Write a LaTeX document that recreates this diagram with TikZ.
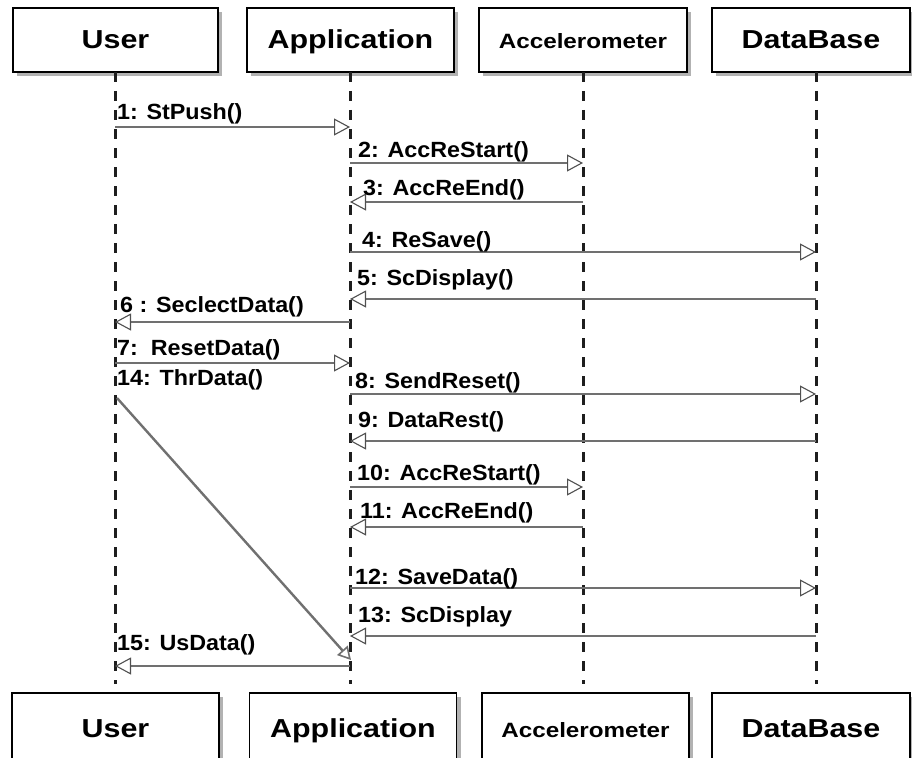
\documentclass[tikz,border=0pt]{standalone}
\usepackage{fontspec}
\setmainfont{Liberation Sans}
\newfontfamily\titlefont[FakeStretch=1.17]{Liberation Sans}
\newfontfamily\labelfont[FakeStretch=1.06]{Liberation Sans}
\usetikzlibrary{arrows.meta,shadows}

\definecolor{msggray}{HTML}{707070}
\definecolor{tipgray}{HTML}{505050}
\definecolor{lifegray}{HTML}{1E1E1E}

\begin{document}
\begin{tikzpicture}[x=1pt,y=-1pt,
  actor/.style={draw=black, line width=1.8pt, fill=white, inner sep=0pt,
    font=\titlefont\bfseries\fontsize{26}{30}\selectfont, text height=18pt, text depth=0pt,
    drop shadow={shadow xshift=4pt, shadow yshift=-4pt, fill=black!30, opacity=1}},
  smallactor/.style={actor, font=\titlefont\bfseries\fontsize{20.7}{24}\selectfont},
  lifeline/.style={draw=lifegray, line width=3pt, dash pattern=on 10pt off 9pt},
  msg/.style={draw=msggray, line width=2pt,
    -{Triangle[fill=white, color=tipgray, length=16pt, width=17pt, line width=1.1pt]}},
  thr/.style={draw=msggray, line width=2.4pt,
    -{Triangle[fill=white, color=msggray, length=13pt, width=14pt, line width=1.6pt]}},
  lbl/.style={anchor=base west, inner sep=0pt, font=\labelfont\bfseries\fontsize{22}{25}\selectfont},
]
\useasboundingbox (0,0) rectangle (912,757);
\clip (0,0) rectangle (912,757);

% actor heads
\node[actor, minimum width=205pt, minimum height=64pt] (userT) at (115.5,40) {User};
\node[actor, minimum width=207pt, minimum height=64pt] (appT) at (350.5,40) {Application};
\node[smallactor, minimum width=208pt, minimum height=64pt] (accT) at (583,40) {Accelerometer};
\node[actor, minimum width=198pt, minimum height=64pt] (dbT) at (811,40) {DataBase};

% actor feet
\node[actor, minimum width=207pt, minimum height=70pt] (userB) at (115.5,728) {User};
\node[actor, minimum width=207pt, minimum height=70pt] (appB) at (353,728) {Application};
\node[smallactor, minimum width=207pt, minimum height=70pt] (accB) at (585.5,728) {Accelerometer};
\node[actor, minimum width=198pt, minimum height=70pt] (dbB) at (811,728) {DataBase};

% lifelines
\coordinate (uL) at (115,72);  \coordinate (uE) at (115,684);
\coordinate (aL) at (350,72);  \coordinate (aE) at (350,684);
\coordinate (cL) at (583,72);  \coordinate (cE) at (583,684);
\coordinate (dL) at (816,72);  \coordinate (dE) at (816,684);
\draw[lifeline] (uL) -- (uE);
\draw[lifeline] (aL) -- (aE);
\draw[lifeline] (cL) -- (cE);
\draw[lifeline] (dL) -- (dE);

% message levels
\coordinate (y1) at (0,127);
\coordinate (y2) at (0,163);
\coordinate (y3) at (0,202);
\coordinate (y4) at (0,252);
\coordinate (y5) at (0,299);
\coordinate (y6) at (0,322);
\coordinate (y7) at (0,363);
\coordinate (y8) at (0,394);
\coordinate (y9) at (0,441);
\coordinate (y10) at (0,487);
\coordinate (y11) at (0,527);
\coordinate (y12) at (0,588);
\coordinate (y13) at (0,636);
\coordinate (y15) at (0,666);

% messages
\draw[msg] (uL |- y1) -- (aL |- y1);
\draw[msg] (aL |- y2) -- (cL |- y2);
\draw[msg] (cL |- y3) -- (aL |- y3);
\draw[msg] (aL |- y4) -- (dL |- y4);
\draw[msg] (dL |- y5) -- (aL |- y5);
\draw[msg] (aL |- y6) -- (uL |- y6);
\draw[msg] (uL |- y7) -- (aL |- y7);
\draw[msg] (aL |- y8) -- (dL |- y8);
\draw[msg] (dL |- y9) -- (aL |- y9);
\draw[msg] (aL |- y10) -- (cL |- y10);
\draw[msg] (cL |- y11) -- (aL |- y11);
\draw[msg] (aL |- y12) -- (dL |- y12);
\draw[msg] (dL |- y13) -- (aL |- y13);
\draw[msg] (aL |- y15) -- (uL |- y15);

% asynchronous reply running across the exchange
\coordinate (thrS) at (117,398);
\coordinate (thrE) at (351,660);
\draw[thr] (thrS) -- (thrE);

% message labels
\node[lbl] (l1) at (117,120) {1: StPush()};
\node[lbl] (l2) at (358,157) {2: AccReStart()};
\node[lbl] (l3) at (363,195) {3: AccReEnd()};
\node[lbl] (l4) at (362,247) {4: ReSave()};
\node[lbl] (l5) at (357,285) {5: ScDisplay()};
\node[lbl] (l6) at (120,312) {6 : SeclectData()};
\node[lbl] (l7) at (117,355) {7:\ \ ResetData()};
\node[lbl] (l14) at (117,385) {14: ThrData()};
\node[lbl] (l8) at (355,388) {8: SendReset()};
\node[lbl] (l9) at (358,427) {9: DataRest()};
\node[lbl] (l10) at (357,480) {10: AccReStart()};
\node[lbl] (l11) at (360,518) {11: AccReEnd()};
\node[lbl] (l12) at (355,584) {12: SaveData()};
\node[lbl] (l13) at (358,622) {13: ScDisplay};
\node[lbl] (l15) at (117,650) {15: UsData()};
\end{tikzpicture}
\end{document}
